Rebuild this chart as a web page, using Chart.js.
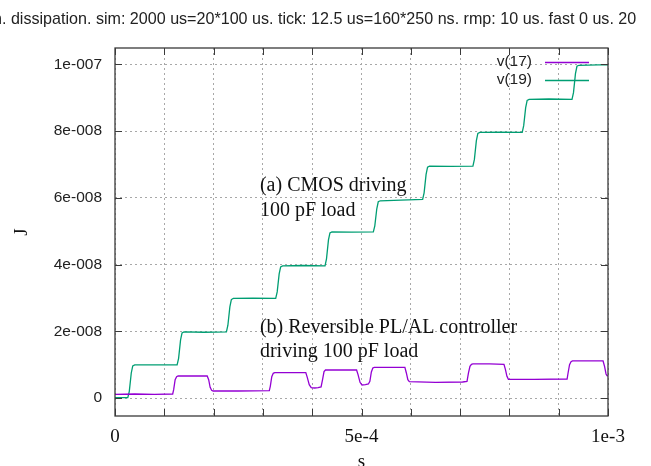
<!DOCTYPE html>
<html><head><meta charset="utf-8">
<script src="https://cdn.jsdelivr.net/npm/chart.js@4.4.0/dist/chart.umd.min.js"></script>
<style>html,body{margin:0;padding:0;background:#fff;overflow:hidden}canvas{display:block}</style>
</head><body>
<canvas id="c" width="651" height="466"></canvas>
<script>
// ---- text ----
const titleText = 'n. dissipation. sim: 2000 us=20*100 us. tick: 12.5 us=160*250 ns. rmp: 10 us. fast 0 us. 20';
const seriesNames = ['v(17)', 'v(19)'];
const xAxisTitle = 's';
const yAxisTitle = 'J';
const annotationA = ['(a) CMOS driving', '100 pF load'];
const annotationB = ['(b) Reversible PL/AL controller', 'driving 100 pF load'];

// ---- ticks ----
const xTickValues = [0, 1e-4, 2e-4, 3e-4, 4e-4, 5e-4, 6e-4, 7e-4, 8e-4, 9e-4, 1e-3];
const xTickLabels = ['0', '', '', '', '', '5e-4', '', '', '', '', '1e-3'];
const yTickValues = [0, 2e-8, 4e-8, 6e-8, 8e-8, 1e-7];
const yTickLabels = ['0', '2e-008', '4e-008', '6e-008', '8e-008', '1e-007'];

// ---- data: time in microseconds, energy in units of 1e-8 J ----
const v17TimeUs = [0, 40, 80, 117, 119, 122, 125, 128, 160,
  187, 190, 193, 196, 199, 250,
  313, 315, 318, 321, 324, 350,
  387, 390, 394, 398, 405, 412, 418, 421, 424, 427, 460,
  490, 493, 497, 501, 508, 514, 517, 520, 523, 526, 560,
  588, 591, 594, 597, 650, 705, 714, 717, 720, 723, 726, 760,
  789, 792, 795, 798, 850, 917, 919, 922, 925, 928, 960,
  990, 993, 996, 998, 1000];
const v17Energy = [0.11, 0.12, 0.11, 0.12, 0.25, 0.55, 0.64, 0.66, 0.66,
  0.66, 0.55, 0.32, 0.23, 0.21, 0.21,
  0.22, 0.35, 0.64, 0.74, 0.76, 0.76,
  0.76, 0.62, 0.40, 0.31, 0.30, 0.31, 0.33, 0.55, 0.79, 0.84, 0.84,
  0.84, 0.70, 0.47, 0.39, 0.40, 0.42, 0.50, 0.78, 0.90, 0.92, 0.92,
  0.92, 0.75, 0.55, 0.49, 0.47, 0.48, 0.50, 0.75, 0.95, 1.01, 1.02, 1.02,
  1.01, 0.85, 0.65, 0.56, 0.56, 0.57, 0.75, 1.00, 1.09, 1.11, 1.11,
  1.11, 0.95, 0.72, 0.67, 0.66];

const v19TimeUs = [0,
  26, 29, 33, 36, 40, 80,
  126, 129, 133, 136, 140, 180,
  226, 229, 233, 236, 240, 280,
  326, 329, 333, 336, 340, 380,
  426, 429, 433, 436, 440, 480,
  524, 527, 531, 534, 538, 580,
  624, 627, 631, 634, 638, 680,
  726, 729, 733, 736, 740, 780,
  826, 829, 833, 836, 840, 880,
  927, 930, 934, 937, 941, 980,
  1000];
const v19Energy = [0.01,
  0.01, 0.20, 0.75, 0.96, 0.99, 0.99,
  0.99, 1.19, 1.74, 1.95, 1.98, 1.97,
  1.98, 2.18, 2.73, 2.95, 2.985, 2.99,
  2.985, 3.18, 3.72, 3.93, 3.96, 3.97,
  3.96, 4.17, 4.74, 4.95, 4.98, 4.97,
  4.98, 5.16, 5.67, 5.88, 5.91, 5.93,
  5.95, 6.15, 6.70, 6.92, 6.95, 6.94,
  6.95, 7.15, 7.71, 7.93, 7.96, 7.97,
  7.96, 8.16, 8.70, 8.92, 8.95, 8.96,
  8.95, 9.15, 9.72, 9.94, 9.97, 9.98,
  9.98];

const colors = ['#9400d3', '#009e73'];

function toPoints(tUs, e) {
  return tUs.map((t, i) => ({ x: t * 1e-6, y: e[i] * 1e-8 }));
}

const frameColor = '#3a3a3a';

const decorPlugin = {
  id: 'decor',
  beforeDraw(chart) {
    const ctx = chart.ctx;
    ctx.save();
    ctx.fillStyle = '#fff';
    ctx.fillRect(0, 0, chart.width, chart.height);
    ctx.restore();
  },
  afterDatasetsDraw(chart) {
    const ctx = chart.ctx;
    const a = chart.chartArea;
    const xs = chart.scales.x, ys = chart.scales.y;
    ctx.save();
    // frame
    ctx.strokeStyle = frameColor;
    ctx.lineWidth = 1.3;
    ctx.strokeRect(a.left, a.top, a.right - a.left, a.bottom - a.top);
    // inward tick marks
    const tl = 7;
    ctx.lineWidth = 1;
    ctx.beginPath();
    xTickValues.forEach(v => {
      const px = Math.round(xs.getPixelForValue(v)) + 0.5;
      ctx.moveTo(px, a.bottom); ctx.lineTo(px, a.bottom - tl);
      ctx.moveTo(px, a.top); ctx.lineTo(px, a.top + tl);
    });
    yTickValues.forEach(v => {
      const py = Math.round(ys.getPixelForValue(v)) + 0.5;
      ctx.moveTo(a.left, py); ctx.lineTo(a.left + tl, py);
      ctx.moveTo(a.right, py); ctx.lineTo(a.right - tl, py);
    });
    ctx.stroke();

    // title (clipped at canvas edges)
    ctx.fillStyle = '#222';
    ctx.font = '16.1px "Liberation Sans", Arial, sans-serif';
    ctx.textAlign = 'left';
    ctx.textBaseline = 'middle';
    ctx.fillText(titleText, -7, 20);

    // axis titles
    ctx.fillStyle = '#111';
    ctx.font = '19px "Liberation Serif", "Times New Roman", serif';
    ctx.textAlign = 'center';
    ctx.fillText(xAxisTitle, (a.left + a.right) / 2, 462);
    ctx.save();
    ctx.translate(22, (a.top + a.bottom) / 2);
    ctx.rotate(-Math.PI / 2);
    ctx.fillText(yAxisTitle, 0, 0);
    ctx.restore();

    // legend
    ctx.font = '15.5px "Liberation Sans", Arial, sans-serif';
    ctx.textAlign = 'right';
    ctx.textBaseline = 'middle';
    chart.data.datasets.forEach((ds, i) => {
      const y = a.top + 14 + i * 18;
      ctx.fillStyle = '#222';
      ctx.fillText(ds.label, a.right - 76, y);
      ctx.strokeStyle = ds.borderColor;
      ctx.lineWidth = 1.3;
      ctx.beginPath();
      ctx.moveTo(a.right - 63, y + 0.5);
      ctx.lineTo(a.right - 19, y + 0.5);
      ctx.stroke();
    });

    // annotations anchored in data coordinates
    ctx.fillStyle = '#111';
    ctx.font = '20px "Liberation Serif", "Times New Roman", serif';
    ctx.textAlign = 'left';
    ctx.textBaseline = 'alphabetic';
    const drawNote = (lines, xv, yv) => {
      const px = xs.getPixelForValue(xv), py = ys.getPixelForValue(yv);
      lines.forEach((l, k) => ctx.fillText(l, px, py + k * 24.5));
    };
    drawNote(annotationA, 2.94e-4, 6.2e-8);
    drawNote(annotationB, 2.94e-4, 1.96e-8);
    ctx.restore();
  }
};

new Chart(document.getElementById('c'), {
  type: 'line',
  data: {
    datasets: [
      { label: seriesNames[0], data: toPoints(v17TimeUs, v17Energy), borderColor: colors[0], backgroundColor: colors[0], borderWidth: 1.3, pointRadius: 0, tension: 0, fill: false },
      { label: seriesNames[1], data: toPoints(v19TimeUs, v19Energy), borderColor: colors[1], backgroundColor: colors[1], borderWidth: 1.3, pointRadius: 0, tension: 0, fill: false }
    ]
  },
  options: {
    responsive: false,
    animation: false,
    devicePixelRatio: 1,
    layout: { padding: { top: 48, right: 43, left: 0, bottom: 0 } },
    plugins: { legend: { display: false }, title: { display: false }, tooltip: { enabled: false } },
    scales: {
      x: {
        type: 'linear', min: 0, max: 1e-3,
        afterBuildTicks: s => { s.ticks = xTickValues.map(v => ({ value: v })); },
        afterFit: s => { s.height = 50; },
        grid: { color: '#a8a8a8', lineWidth: 1, drawTicks: false },
        border: { display: false, dash: [2, 3] },
        ticks: {
          autoSkip: false, maxRotation: 0, padding: 10, color: '#111',
          font: { family: '"Liberation Serif", "Times New Roman", serif', size: 19 },
          callback: (v, i) => xTickLabels[i]
        }
      },
      y: {
        type: 'linear', min: -5.39e-9, max: 1.0488e-7,
        afterBuildTicks: s => { s.ticks = yTickValues.map(v => ({ value: v })); },
        afterFit: s => { s.width = 115; },
        grid: { color: '#a8a8a8', lineWidth: 1, drawTicks: false },
        border: { display: false, dash: [2, 3] },
        ticks: {
          padding: 13, color: '#222',
          font: { family: '"Liberation Sans", Arial, sans-serif', size: 15.5 },
          callback: (v, i) => yTickLabels[i]
        }
      }
    }
  },
  plugins: [decorPlugin]
});
</script>
</body></html>
